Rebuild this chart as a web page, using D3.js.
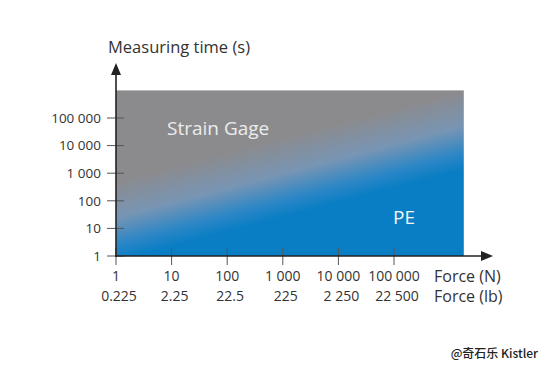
<!DOCTYPE html>
<html>
<head>
<meta charset="utf-8">
<script src="https://cdn.jsdelivr.net/npm/d3@7"></script>
<style>
  html, body { margin: 0; padding: 0; background: #fff; }
  svg { display: block; font-family: "Open Sans", "Noto Sans", sans-serif; }
</style>
</head>
<body>
<div id="chart"></div>
<script>
// tick values and labels
const timeTicks = [1, 10, 100, 1000, 10000, 100000]
const timeLabels = ["1", "10", "100", "1 000", "10 000", "100 000"]
const forceTicks = [1, 10, 100, 1000, 10000, 100000]
const forceNLabels = ["1", "10", "100", "1 000", "10 000", "100 000"]
const forceLbLabels = ["0.225", "2.25", "22.5", "225", "2 250", "22 500"]

// region extent and the strain gage / PE boundary (force N, time s)
const regionForce = [1, 1.8e6]
const regionTime = [1, 1e6]
const boundaryForce = [1, 1.8e6]
const boundaryTime = [18, 37000]

const width = 550
const height = 366

const svg = d3.select("#chart")
  .append("svg")
  .attr("width", width)
  .attr("height", height)

const x = d3.scaleLog().domain([1, 1e5]).range([116, 394])
const y = d3.scaleLog().domain([1, 1e5]).range([256, 118])

// gradient perpendicular to the boundary line
const bx0 = x(boundaryForce[0]), by0 = y(boundaryTime[0])
const bx1 = x(boundaryForce[1]), by1 = y(boundaryTime[1])
const cx = (bx0 + bx1) / 2, cy = (by0 + by1) / 2
const len = Math.hypot(bx1 - bx0, by1 - by0)
const nx = -(by1 - by0) / len, ny = (bx1 - bx0) / len
const half = 38

const grad = svg.append("defs").append("linearGradient")
  .attr("id", "fade")
  .attr("gradientUnits", "userSpaceOnUse")
  .attr("x1", cx - nx * half).attr("y1", cy - ny * half)
  .attr("x2", cx + nx * half).attr("y2", cy + ny * half)

grad.append("stop").attr("offset", 0).attr("stop-color", "#8b8b8e")
grad.append("stop").attr("offset", 0.45).attr("stop-color", "#7895b4")
grad.append("stop").attr("offset", 0.8).attr("stop-color", "#2a86c6")
grad.append("stop").attr("offset", 1).attr("stop-color", "#0a7ec4")

svg.append("rect")
  .attr("x", x(regionForce[0]))
  .attr("y", y(regionTime[1]))
  .attr("width", x(regionForce[1]) - x(regionForce[0]))
  .attr("height", y(regionTime[0]) - y(regionTime[1]))
  .attr("fill", "url(#fade)")

// region labels
svg.append("text")
  .attr("x", 167).attr("y", 135)
  .attr("font-size", 19)
  .attr("fill", "#ececec")
  .text("Strain Gage")

svg.append("text")
  .attr("x", 393).attr("y", 224)
  .attr("font-size", 19)
  .attr("fill", "#f2f6fa")
  .text("PE")

// y ticks
svg.append("g")
  .selectAll("line")
  .data(timeTicks)
  .join("line")
  .attr("x1", x(1) - 9).attr("x2", x(1) + 8)
  .attr("y1", d => y(d)).attr("y2", d => y(d))
  .attr("stroke", "#555")
  .attr("stroke-width", 1)

svg.append("g")
  .attr("font-size", 13.5)
  .attr("fill", "#333")
  .attr("text-anchor", "end")
  .selectAll("text")
  .data(timeTicks)
  .join("text")
  .attr("x", 101)
  .attr("y", d => y(d) + 4.7)
  .text((d, i) => timeLabels[i])

// x ticks
svg.append("g")
  .selectAll("line")
  .data(forceTicks)
  .join("line")
  .attr("x1", d => x(d)).attr("x2", d => x(d))
  .attr("y1", y(1) - 8).attr("y2", y(1) + 9)
  .attr("stroke", "#555")
  .attr("stroke-width", 1)

const xl = svg.append("g")
  .attr("font-size", 14)
  .attr("fill", "#333")
  .attr("text-anchor", "middle")

xl.selectAll(".n")
  .data(forceTicks)
  .join("text")
  .attr("class", "n")
  .attr("x", d => x(d))
  .attr("y", 281)
  .text((d, i) => forceNLabels[i])

xl.selectAll(".lb")
  .data(forceTicks)
  .join("text")
  .attr("class", "lb")
  .attr("x", d => x(d) + 3)
  .attr("y", 301)
  .text((d, i) => forceLbLabels[i])

svg.append("text")
  .attr("x", 434).attr("y", 282)
  .attr("font-size", 16)
  .attr("fill", "#333")
  .text("Force (N)")

svg.append("text")
  .attr("x", 434).attr("y", 302)
  .attr("font-size", 16)
  .attr("fill", "#333")
  .text("Force (lb)")

// axes with arrows
const axisColor = "#222"
svg.append("line")
  .attr("x1", x(1)).attr("x2", x(1))
  .attr("y1", y(1) + 1).attr("y2", 72)
  .attr("stroke", axisColor).attr("stroke-width", 1.6)

svg.append("path")
  .attr("d", `M${x(1)},63 L${x(1) - 5},75 L${x(1) + 5},75 Z`)
  .attr("fill", axisColor)

svg.append("line")
  .attr("x1", x(1) - 1).attr("x2", 484)
  .attr("y1", y(1)).attr("y2", y(1))
  .attr("stroke", axisColor).attr("stroke-width", 1.6)

svg.append("path")
  .attr("d", `M493,${y(1)} L481,${y(1) - 5} L481,${y(1) + 5} Z`)
  .attr("fill", axisColor)

// axis title
svg.append("text")
  .attr("x", 108).attr("y", 53)
  .attr("font-size", 16.5)
  .attr("fill", "#333")
  .text("Measuring time (s)")

// watermark
svg.append("text")
  .attr("x", 538).attr("y", 358)
  .attr("text-anchor", "end")
  .attr("font-size", 12)
  .attr("font-weight", 500)
  .attr("font-family", "'Noto Sans CJK SC', 'Open Sans', sans-serif")
  .attr("fill", "#222")
  .text("@奇石乐 Kistler")
</script>
</body>
</html>
